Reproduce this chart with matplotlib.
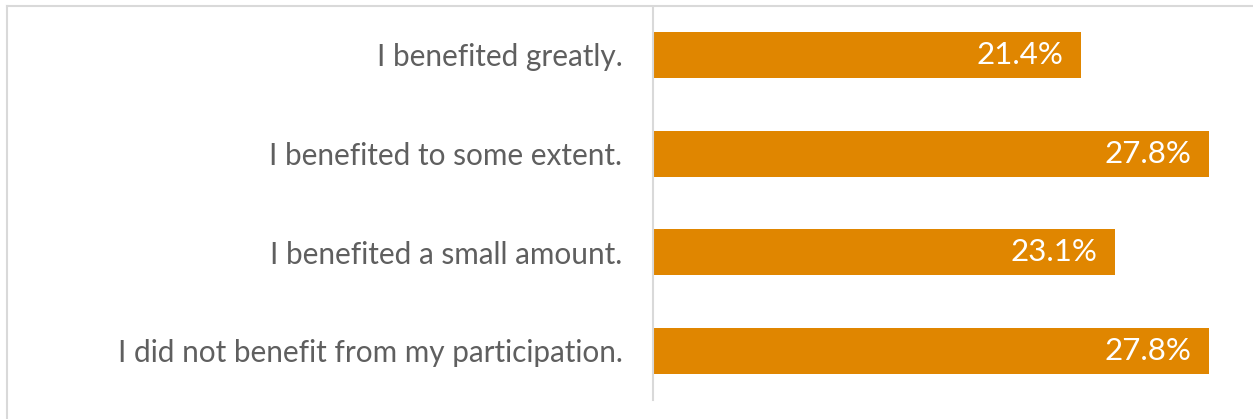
import matplotlib
matplotlib.use("Agg")
import matplotlib.pyplot as plt

categories = [
    "I benefited greatly.",
    "I benefited to some extent.",
    "I benefited a small amount.",
    "I did not benefit from my participation.",
]
values = [21.4, 27.8, 23.1, 27.8]
value_labels = ["21.4%", "27.8%", "23.1%", "27.8%"]

W, H = 1253, 419
fig = plt.figure(figsize=(W / 100, H / 100), dpi=100)
fig.patch.set_facecolor("white")

# outer border (top and left visible)
fig.add_artist(plt.Line2D([7 / W, 7 / W], [0, 1 - 6 / H], transform=fig.transFigure,
                          color="#d9d9d9", lw=1.5))
fig.add_artist(plt.Line2D([7 / W, 1], [1 - 6 / H, 1 - 6 / H], transform=fig.transFigure,
                          color="#d9d9d9", lw=1.5))

ax_left, ax_right = 653, 1233
ax_top, ax_bottom = 7, 400
ax = fig.add_axes([ax_left / W, (H - ax_bottom) / H, (ax_right - ax_left) / W, (ax_bottom - ax_top) / H])
ax.set_xlim(0, (ax_right - ax_left) / 20.0)
ax.set_ylim(3.497, -0.486)

ypos = list(range(len(categories)))
bars = ax.barh(ypos, values, height=0.466, color="#E08600", edgecolor="none")

for y, v, lab in zip(ypos, values, value_labels):
    ax.text(v - 0.9, y, lab, ha="right", va="center", color="white",
            fontsize=22.5, family="Lato")

ax.set_yticks(ypos)
ax.set_yticklabels(categories, fontsize=21.4, family="Lato", color="#5f5f5f")
ax.tick_params(axis="y", length=0, pad=22)
ax.set_xticks([])
for s in ["top", "right", "bottom"]:
    ax.spines[s].set_visible(False)
ax.spines["left"].set_color("#d9d9d9")
ax.spines["left"].set_linewidth(1.5)

fig.savefig("out.png", dpi=100)
